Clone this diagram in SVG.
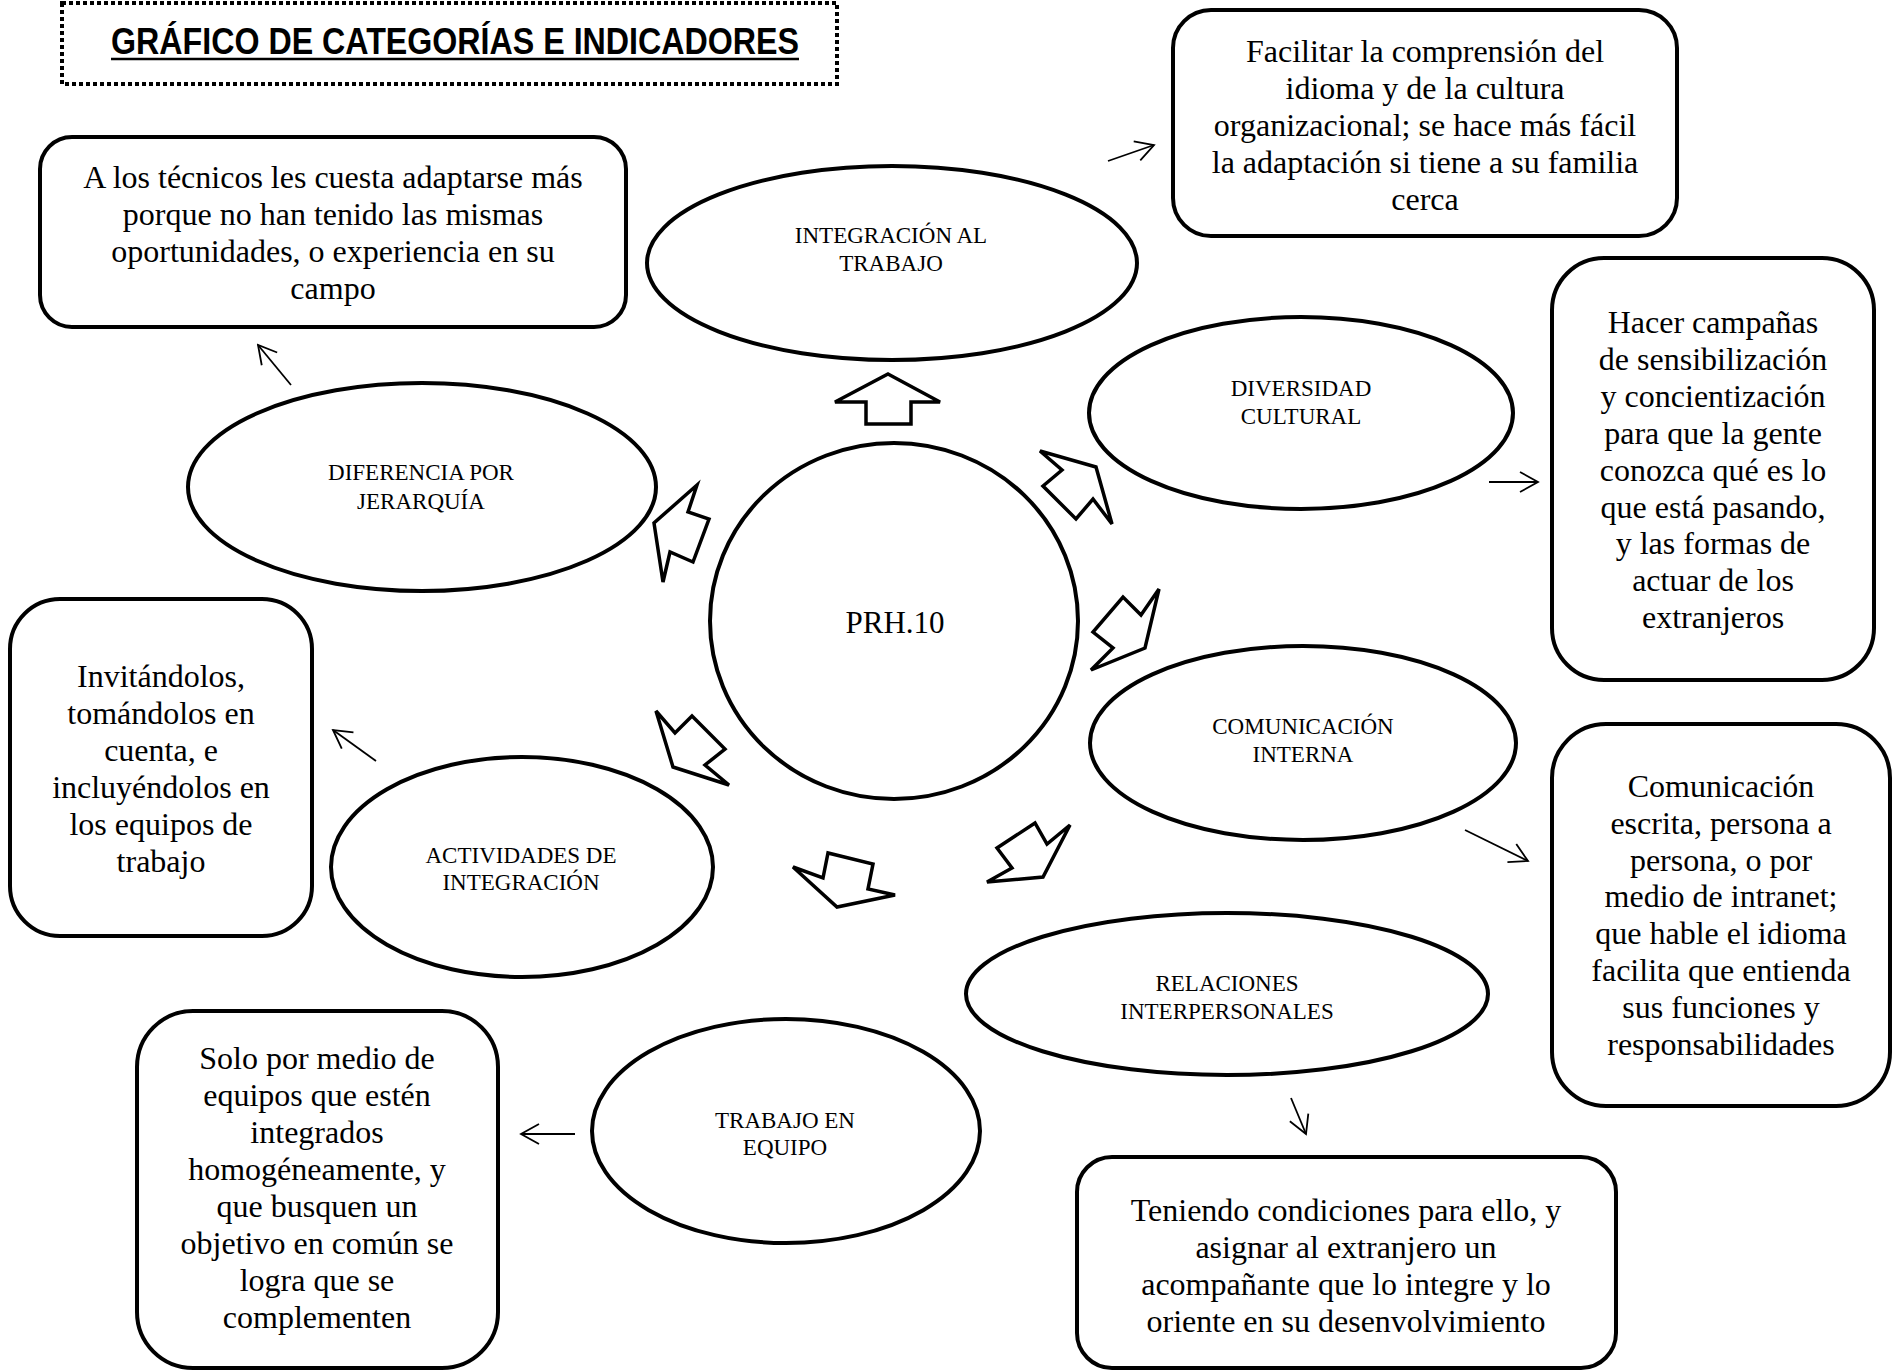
<svg xmlns="http://www.w3.org/2000/svg" width="1898" height="1371" viewBox="0 0 1898 1371">
<style>
.box{fill:#fff;stroke:#000;stroke-width:4}
.ell{fill:#fff;stroke:#000;stroke-width:4}
.blk{fill:#fff;stroke:#000;stroke-width:3.5;stroke-linejoin:miter}
.t{font-family:"Liberation Serif","Times New Roman",serif;font-size:32px;fill:#000;text-anchor:middle}
.l{font-family:"Liberation Serif","Times New Roman",serif;font-size:23px;fill:#000;text-anchor:middle}
.c{stroke:#000;stroke-width:1.8;fill:none}
</style>
<defs>
<marker id="open" markerUnits="userSpaceOnUse" viewBox="-20 -12 22 24" refX="0" refY="0" markerWidth="22" markerHeight="24" orient="auto">
<path d="M-18,-10 L0,0 L-18,10" fill="none" stroke="#000" stroke-width="1.8"/>
</marker>
</defs>
<rect width="1898" height="1371" fill="#fff"/>

<g id="title">
<rect x="62" y="3" width="775" height="81" fill="none" stroke="#000" stroke-width="4" stroke-dasharray="4 3"/>
<text x="455" y="54" font-family="'Liberation Sans',Arial,sans-serif" font-weight="bold" font-size="37" text-anchor="middle" textLength="688" lengthAdjust="spacingAndGlyphs">GRÁFICO DE CATEGORÍAS E INDICADORES</text>
<line x1="111" y1="59" x2="799" y2="59" stroke="#000" stroke-width="2.5"/>
</g>

<g id="center">
<ellipse cx="894" cy="621" rx="184" ry="178" class="ell"/>
<text x="895" y="633" font-family="'Liberation Serif','Times New Roman',serif" font-size="31" text-anchor="middle">PRH.10</text>
</g>

<g id="e-integracion">
<ellipse cx="892" cy="263" rx="245" ry="97" class="ell"/>
<text class="l" x="891" y="243">INTEGRACIÓN AL</text>
<text class="l" x="891" y="271">TRABAJO</text>
</g>
<g id="e-diversidad">
<ellipse cx="1301" cy="413" rx="212" ry="96" class="ell"/>
<text class="l" x="1301" y="396">DIVERSIDAD</text>
<text class="l" x="1301" y="424">CULTURAL</text>
</g>
<g id="e-comunicacion">
<ellipse cx="1303" cy="743" rx="213" ry="97" class="ell"/>
<text class="l" x="1303" y="734">COMUNICACIÓN</text>
<text class="l" x="1303" y="762">INTERNA</text>
</g>
<g id="e-relaciones">
<ellipse cx="1227" cy="994" rx="261" ry="81" class="ell"/>
<text class="l" x="1227" y="991">RELACIONES</text>
<text class="l" x="1227" y="1019">INTERPERSONALES</text>
</g>
<g id="e-trabajo">
<ellipse cx="786" cy="1131" rx="194" ry="112" class="ell"/>
<text class="l" x="785" y="1128">TRABAJO EN</text>
<text class="l" x="785" y="1155">EQUIPO</text>
</g>
<g id="e-actividades">
<ellipse cx="522" cy="867" rx="191" ry="110" class="ell"/>
<text class="l" x="521" y="863">ACTIVIDADES DE</text>
<text class="l" x="521" y="890">INTEGRACIÓN</text>
</g>
<g id="e-diferencia">
<ellipse cx="422" cy="487" rx="234" ry="104" class="ell"/>
<text class="l" x="421" y="480">DIFERENCIA POR</text>
<text class="l" x="421" y="509">JERARQUÍA</text>
</g>

<g id="box-facilitar">
<rect x="1173" y="10" width="504" height="226" rx="38" class="box"/>
<text class="t" x="1425" y="62">Facilitar la comprensión del</text>
<text class="t" x="1425" y="99">idioma y de la cultura</text>
<text class="t" x="1425" y="136">organizacional; se hace más fácil</text>
<text class="t" x="1425" y="173">la adaptación si tiene a su familia</text>
<text class="t" x="1425" y="210">cerca</text>
</g>
<g id="box-campanas">
<rect x="1552" y="258" width="322" height="422" rx="52" class="box"/>
<text class="t" x="1713" y="333">Hacer campañas</text>
<text class="t" x="1713" y="370">de sensibilización</text>
<text class="t" x="1713" y="407">y concientización</text>
<text class="t" x="1713" y="444">para que la gente</text>
<text class="t" x="1713" y="481">conozca qué es lo</text>
<text class="t" x="1713" y="518">que está pasando,</text>
<text class="t" x="1713" y="554">y las formas de</text>
<text class="t" x="1713" y="591">actuar de los</text>
<text class="t" x="1713" y="628">extranjeros</text>
</g>
<g id="box-comunicacion">
<rect x="1552" y="724" width="338" height="382" rx="54" class="box"/>
<text class="t" x="1721" y="797">Comunicación</text>
<text class="t" x="1721" y="834">escrita, persona a</text>
<text class="t" x="1721" y="871">persona, o por</text>
<text class="t" x="1721" y="907">medio de intranet;</text>
<text class="t" x="1721" y="944">que hable el idioma</text>
<text class="t" x="1721" y="981">facilita que entienda</text>
<text class="t" x="1721" y="1018">sus funciones y</text>
<text class="t" x="1721" y="1055">responsabilidades</text>
</g>
<g id="box-teniendo">
<rect x="1077" y="1157" width="539" height="211" rx="35" class="box"/>
<text class="t" x="1346" y="1221">Teniendo condiciones para ello, y</text>
<text class="t" x="1346" y="1258">asignar al extranjero un</text>
<text class="t" x="1346" y="1295">acompañante que lo integre y lo</text>
<text class="t" x="1346" y="1332">oriente en su desenvolvimiento</text>
</g>
<g id="box-solo">
<rect x="137" y="1011" width="361" height="357" rx="56" class="box"/>
<text class="t" x="317" y="1069">Solo por medio de</text>
<text class="t" x="317" y="1106">equipos que estén</text>
<text class="t" x="317" y="1143">integrados</text>
<text class="t" x="317" y="1180">homogéneamente, y</text>
<text class="t" x="317" y="1217">que busquen un</text>
<text class="t" x="317" y="1254">objetivo en común se</text>
<text class="t" x="317" y="1291">logra que se</text>
<text class="t" x="317" y="1328">complementen</text>
</g>
<g id="box-invitandolos">
<rect x="10" y="599" width="302" height="337" rx="50" class="box"/>
<text class="t" x="161" y="687">Invitándolos,</text>
<text class="t" x="161" y="724">tomándolos en</text>
<text class="t" x="161" y="761">cuenta, e</text>
<text class="t" x="161" y="798">incluyéndolos en</text>
<text class="t" x="161" y="835">los equipos de</text>
<text class="t" x="161" y="872">trabajo</text>
</g>
<g id="box-tecnicos">
<rect x="40" y="137" width="586" height="190" rx="32" class="box"/>
<text class="t" x="333" y="188">A los técnicos les cuesta adaptarse más</text>
<text class="t" x="333" y="225">porque no han tenido las mismas</text>
<text class="t" x="333" y="262">oportunidades, o experiencia en su</text>
<text class="t" x="333" y="299">campo</text>
</g>

<g id="connectors">
<polygon class="blk" points="888,374 940,402 911,402 911,424 866,424 866,402 835,402"/>
<polygon class="blk" points="1040,451 1096,467 1112,524 1093,499 1076,519 1043,486 1062,470"/>
<polygon class="blk" points="1159,589 1141,615 1123,597 1093,632 1113,648 1091,670 1145,648"/>
<polygon class="blk" points="1070,825 1047,844 1035,823 997,848 1012,868 987,882 1043,877"/>
<polygon class="blk" points="793,867 823,878 828,853 873,864 868,889 895,895 837,907"/>
<polygon class="blk" points="656,711 675,733 692,716 725,749 705,765 729,785 673,767"/>
<polygon class="blk" points="697,485 688,512 709,519 693,562 670,552 663,582 654,523"/>
<line class="c" x1="1108" y1="161" x2="1154" y2="145" marker-end="url(#open)"/>
<line class="c" x1="291" y1="385" x2="258" y2="345" marker-end="url(#open)"/>
<line class="c" x1="1489" y1="482" x2="1538" y2="482" marker-end="url(#open)"/>
<line class="c" x1="376" y1="761" x2="333" y2="730" marker-end="url(#open)"/>
<line class="c" x1="1465" y1="830" x2="1528" y2="861" marker-end="url(#open)"/>
<line class="c" x1="1291" y1="1098" x2="1306" y2="1134" marker-end="url(#open)"/>
<line class="c" x1="575" y1="1134" x2="521" y2="1134" marker-end="url(#open)"/>
</g>
</svg>
